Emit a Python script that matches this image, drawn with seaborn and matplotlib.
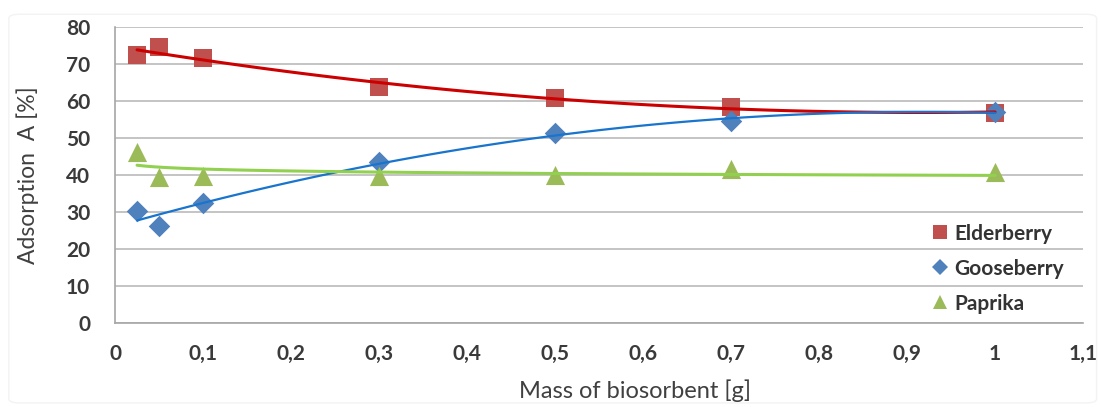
import numpy as np
import pandas as pd
import seaborn as sns
import matplotlib.pyplot as plt
from matplotlib.lines import Line2D
from matplotlib.patches import FancyBboxPatch

# Measured adsorption for each biosorbent mass
mass = [0.025, 0.05, 0.1, 0.3, 0.5, 0.7, 1.0]
elderberry = [72.4, 74.5, 71.6, 63.7, 60.8, 58.5, 56.8]
gooseberry = [30.4, 26.2, 32.4, 43.4, 51.4, 54.5, 57.0]
paprika = [46.3, 39.4, 39.7, 39.8, 40.0, 41.6, 40.8]

series_names = ["Elderberry", "Gooseberry", "Paprika"]
x_ticks = [0, 0.1, 0.2, 0.3, 0.4, 0.5, 0.6, 0.7, 0.8, 0.9, 1.0, 1.1]
x_tick_labels = ["0", "0,1", "0,2", "0,3", "0,4", "0,5", "0,6", "0,7", "0,8", "0,9", "1", "1,1"]
y_ticks = [0, 10, 20, 30, 40, 50, 60, 70, 80]

df = pd.DataFrame({"mass": mass * 3,
                   "adsorption": elderberry + gooseberry + paprika,
                   "sample": np.repeat(series_names, len(mass))})

sns.set_style("white")
plt.rcParams["font.family"] = ["Lato", "DejaVu Sans"]

fig = plt.figure(figsize=(11.01, 4.07), dpi=100)
ax = fig.add_axes([0.1045, 0.2064, 0.8792, 0.7273])

# faint chart frame
fig.patches.append(FancyBboxPatch((0.008, 0.01), 0.988, 0.955,
                                  boxstyle="round,pad=0,rounding_size=0.01",
                                  transform=fig.transFigure, fill=False,
                                  edgecolor="#f3f3f3", linewidth=1.0))

styles = {
    "Elderberry": dict(marker="s", mc="#C0504D", lc="#CC0000", lw=2.2, s=150, fit=dict(order=2)),
    "Gooseberry": dict(marker="D", mc="#4F81BD", lc="#1874CD", lw=1.6, s=120, fit=dict(order=2)),
    "Paprika": dict(marker="^", mc="#9BBB59", lc="#92D050", lw=2.2, s=190, fit=dict(logx=True)),
}

for name in series_names:
    st = styles[name]
    sub = df[df["sample"] == name]
    sns.regplot(data=sub, x="mass", y="adsorption", ax=ax, ci=None,
                marker=st["marker"],
                scatter_kws=dict(s=st["s"], color=st["mc"], alpha=1, linewidths=0, zorder=2),
                line_kws=dict(color=st["lc"], lw=st["lw"], zorder=3),
                **st["fit"])

ax.set_xlim(0, 1.1)
ax.set_ylim(0, 80)
ax.set_xticks(x_ticks)
ax.set_xticklabels(x_tick_labels)
ax.set_yticks(y_ticks)
ax.yaxis.grid(True, color="#c4c4c4", linewidth=1.4)
ax.xaxis.grid(False)
ax.set_axisbelow(True)

for side in ["top", "right"]:
    ax.spines[side].set_visible(False)
for side in ["left", "bottom"]:
    ax.spines[side].set_color("#a6a6a6")
    ax.spines[side].set_linewidth(1.2)

ax.tick_params(axis="x", direction="out", length=5, width=1.2, color="#a6a6a6",
               labelsize=15, labelcolor="#3a3a3a", pad=10)
ax.tick_params(axis="y", direction="out", length=8, width=1.4, color="#c4c4c4",
               labelsize=15, labelcolor="#3a3a3a", pad=10)
for lab in ax.get_xticklabels() + ax.get_yticklabels():
    lab.set_fontweight("bold")

ax.set_xlabel("Mass of biosorbent [g]", fontsize=17, color="#404040")
ax.set_ylabel("Adsorption  A [%]", fontsize=16.5, color="#404040")
ax.xaxis.set_label_coords(0.537, -0.19)
ax.yaxis.set_label_coords(-0.079, 0.5)

handles = [Line2D([], [], linestyle="none", marker=styles[n]["marker"],
                  markerfacecolor=styles[n]["mc"], markeredgewidth=0,
                  markersize=10.5 if n != "Gooseberry" else 8.5)
           for n in series_names]
leg = ax.legend(handles, series_names, loc="lower right", bbox_to_anchor=(1.0, -0.032),
                frameon=False, fontsize=15, labelspacing=0.72, handlelength=0.8,
                handletextpad=0.3)
for t in leg.get_texts():
    t.set_color("#333333")
    t.set_fontweight("bold")

fig.savefig("out.png", dpi=100, facecolor="white")
